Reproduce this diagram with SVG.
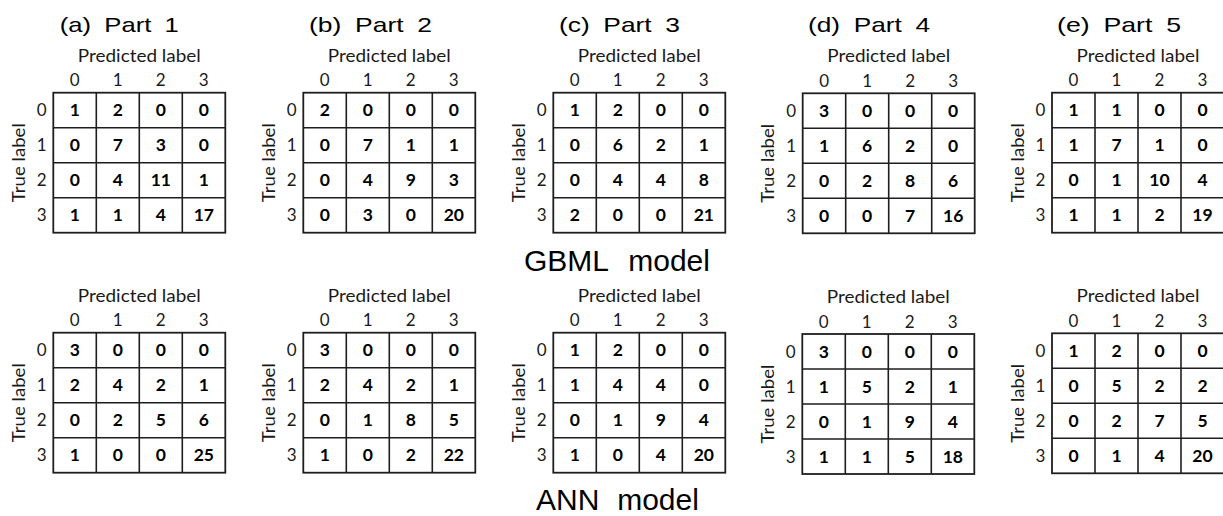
<svg xmlns="http://www.w3.org/2000/svg" width="1223" height="516" viewBox="0 0 1223 516">
<style>
.bg{fill:#fff}
.t{font-family:"Liberation Sans",Arial,sans-serif;font-size:21px;fill:#000;word-spacing:5px}
.pl{font-family:Lato,"Open Sans",sans-serif;font-size:17px;fill:#1a1a1a;text-anchor:middle}
.ax{font-family:Lato,"Open Sans",sans-serif;font-size:17px;fill:#1a1a1a;text-anchor:middle}
.v{font-family:Lato,"Open Sans",sans-serif;font-size:17.5px;font-weight:bold;fill:#000;text-anchor:middle}
.grid{fill:#fff;stroke:#1e1e1e;stroke-width:1.8}
.gl{fill:none;stroke:#1e1e1e;stroke-width:1.6}
.m{font-family:"Liberation Sans",Arial,sans-serif;font-size:30px;fill:#000}
</style>
<defs>
<g id="frame">
<rect class="grid" x="0" y="0" width="172" height="140"/>
<path class="gl" d="M43 0V140M86 0V140M129 0V140M0 35H172M0 70H172M0 105H172"/>
<text class="pl" x="86" y="-31" textLength="123" lengthAdjust="spacingAndGlyphs">Predicted label</text>
<text class="ax" x="21.5" y="-6.5">0</text><text class="ax" x="64.5" y="-6.5">1</text><text class="ax" x="107.5" y="-6.5">2</text><text class="ax" x="150.5" y="-6.5">3</text>
<text class="ax" x="-11.6" y="23.6">0</text><text class="ax" x="-11.6" y="58.6">1</text><text class="ax" x="-11.6" y="93.6">2</text><text class="ax" x="-11.6" y="128.6">3</text>
<text class="pl" transform="translate(-28.3,70) rotate(-90)" textLength="79" lengthAdjust="spacingAndGlyphs">True label</text>
</g>
</defs>
<rect class="bg" x="0" y="0" width="1223" height="516"/>

<g id="gbml-a" transform="translate(53.3,92.7)">
<text class="t" x="6.5" y="-61" textLength="119" lengthAdjust="spacingAndGlyphs">(a) Part 1</text>
<use href="#frame"/>
<text class="v" x="21.5" y="23.8">1</text><text class="v" x="64.5" y="23.8">2</text><text class="v" x="107.5" y="23.8">0</text><text class="v" x="150.5" y="23.8">0</text>
<text class="v" x="21.5" y="58.8">0</text><text class="v" x="64.5" y="58.8">7</text><text class="v" x="107.5" y="58.8">3</text><text class="v" x="150.5" y="58.8">0</text>
<text class="v" x="21.5" y="93.8">0</text><text class="v" x="64.5" y="93.8">4</text><text class="v" x="107.5" y="93.8">11</text><text class="v" x="150.5" y="93.8">1</text>
<text class="v" x="21.5" y="128.8">1</text><text class="v" x="64.5" y="128.8">1</text><text class="v" x="107.5" y="128.8">4</text><text class="v" x="150.5" y="128.8">17</text>
</g>

<g id="gbml-b" transform="translate(303.3,92.7)">
<text class="t" x="5.7" y="-61" textLength="123" lengthAdjust="spacingAndGlyphs">(b) Part 2</text>
<use href="#frame"/>
<text class="v" x="21.5" y="23.8">2</text><text class="v" x="64.5" y="23.8">0</text><text class="v" x="107.5" y="23.8">0</text><text class="v" x="150.5" y="23.8">0</text>
<text class="v" x="21.5" y="58.8">0</text><text class="v" x="64.5" y="58.8">7</text><text class="v" x="107.5" y="58.8">1</text><text class="v" x="150.5" y="58.8">1</text>
<text class="v" x="21.5" y="93.8">0</text><text class="v" x="64.5" y="93.8">4</text><text class="v" x="107.5" y="93.8">9</text><text class="v" x="150.5" y="93.8">3</text>
<text class="v" x="21.5" y="128.8">0</text><text class="v" x="64.5" y="128.8">3</text><text class="v" x="107.5" y="128.8">0</text><text class="v" x="150.5" y="128.8">20</text>
</g>

<g id="gbml-c" transform="translate(553.3,92.7)">
<text class="t" x="5.7" y="-61" textLength="121" lengthAdjust="spacingAndGlyphs">(c) Part 3</text>
<use href="#frame"/>
<text class="v" x="21.5" y="23.8">1</text><text class="v" x="64.5" y="23.8">2</text><text class="v" x="107.5" y="23.8">0</text><text class="v" x="150.5" y="23.8">0</text>
<text class="v" x="21.5" y="58.8">0</text><text class="v" x="64.5" y="58.8">6</text><text class="v" x="107.5" y="58.8">2</text><text class="v" x="150.5" y="58.8">1</text>
<text class="v" x="21.5" y="93.8">0</text><text class="v" x="64.5" y="93.8">4</text><text class="v" x="107.5" y="93.8">4</text><text class="v" x="150.5" y="93.8">8</text>
<text class="v" x="21.5" y="128.8">2</text><text class="v" x="64.5" y="128.8">0</text><text class="v" x="107.5" y="128.8">0</text><text class="v" x="150.5" y="128.8">21</text>
</g>

<g id="gbml-d" transform="translate(802.7,93.3)">
<text class="t" x="5.3" y="-61.6" textLength="122" lengthAdjust="spacingAndGlyphs">(d) Part 4</text>
<use href="#frame"/>
<text class="v" x="21.5" y="23.8">3</text><text class="v" x="64.5" y="23.8">0</text><text class="v" x="107.5" y="23.8">0</text><text class="v" x="150.5" y="23.8">0</text>
<text class="v" x="21.5" y="58.8">1</text><text class="v" x="64.5" y="58.8">6</text><text class="v" x="107.5" y="58.8">2</text><text class="v" x="150.5" y="58.8">0</text>
<text class="v" x="21.5" y="93.8">0</text><text class="v" x="64.5" y="93.8">2</text><text class="v" x="107.5" y="93.8">8</text><text class="v" x="150.5" y="93.8">6</text>
<text class="v" x="21.5" y="128.8">0</text><text class="v" x="64.5" y="128.8">0</text><text class="v" x="107.5" y="128.8">7</text><text class="v" x="150.5" y="128.8">16</text>
</g>

<g id="gbml-e" transform="translate(1052,92.7)">
<text class="t" x="5" y="-61" textLength="124" lengthAdjust="spacingAndGlyphs">(e) Part 5</text>
<use href="#frame"/>
<text class="v" x="21.5" y="23.8">1</text><text class="v" x="64.5" y="23.8">1</text><text class="v" x="107.5" y="23.8">0</text><text class="v" x="150.5" y="23.8">0</text>
<text class="v" x="21.5" y="58.8">1</text><text class="v" x="64.5" y="58.8">7</text><text class="v" x="107.5" y="58.8">1</text><text class="v" x="150.5" y="58.8">0</text>
<text class="v" x="21.5" y="93.8">0</text><text class="v" x="64.5" y="93.8">1</text><text class="v" x="107.5" y="93.8">10</text><text class="v" x="150.5" y="93.8">4</text>
<text class="v" x="21.5" y="128.8">1</text><text class="v" x="64.5" y="128.8">1</text><text class="v" x="107.5" y="128.8">2</text><text class="v" x="150.5" y="128.8">19</text>
</g>

<text id="gbml-title" class="m" x="524" y="271" style="word-spacing:12px">GBML model</text>

<g id="ann-a" transform="translate(53.3,332.7)">
<use href="#frame"/>
<text class="v" x="21.5" y="23.8">3</text><text class="v" x="64.5" y="23.8">0</text><text class="v" x="107.5" y="23.8">0</text><text class="v" x="150.5" y="23.8">0</text>
<text class="v" x="21.5" y="58.8">2</text><text class="v" x="64.5" y="58.8">4</text><text class="v" x="107.5" y="58.8">2</text><text class="v" x="150.5" y="58.8">1</text>
<text class="v" x="21.5" y="93.8">0</text><text class="v" x="64.5" y="93.8">2</text><text class="v" x="107.5" y="93.8">5</text><text class="v" x="150.5" y="93.8">6</text>
<text class="v" x="21.5" y="128.8">1</text><text class="v" x="64.5" y="128.8">0</text><text class="v" x="107.5" y="128.8">0</text><text class="v" x="150.5" y="128.8">25</text>
</g>

<g id="ann-b" transform="translate(303.3,332.7)">
<use href="#frame"/>
<text class="v" x="21.5" y="23.8">3</text><text class="v" x="64.5" y="23.8">0</text><text class="v" x="107.5" y="23.8">0</text><text class="v" x="150.5" y="23.8">0</text>
<text class="v" x="21.5" y="58.8">2</text><text class="v" x="64.5" y="58.8">4</text><text class="v" x="107.5" y="58.8">2</text><text class="v" x="150.5" y="58.8">1</text>
<text class="v" x="21.5" y="93.8">0</text><text class="v" x="64.5" y="93.8">1</text><text class="v" x="107.5" y="93.8">8</text><text class="v" x="150.5" y="93.8">5</text>
<text class="v" x="21.5" y="128.8">1</text><text class="v" x="64.5" y="128.8">0</text><text class="v" x="107.5" y="128.8">2</text><text class="v" x="150.5" y="128.8">22</text>
</g>

<g id="ann-c" transform="translate(553.3,332.7)">
<use href="#frame"/>
<text class="v" x="21.5" y="23.8">1</text><text class="v" x="64.5" y="23.8">2</text><text class="v" x="107.5" y="23.8">0</text><text class="v" x="150.5" y="23.8">0</text>
<text class="v" x="21.5" y="58.8">1</text><text class="v" x="64.5" y="58.8">4</text><text class="v" x="107.5" y="58.8">4</text><text class="v" x="150.5" y="58.8">0</text>
<text class="v" x="21.5" y="93.8">0</text><text class="v" x="64.5" y="93.8">1</text><text class="v" x="107.5" y="93.8">9</text><text class="v" x="150.5" y="93.8">4</text>
<text class="v" x="21.5" y="128.8">1</text><text class="v" x="64.5" y="128.8">0</text><text class="v" x="107.5" y="128.8">4</text><text class="v" x="150.5" y="128.8">20</text>
</g>

<g id="ann-d" transform="translate(802.3,334)">
<use href="#frame"/>
<text class="v" x="21.5" y="23.8">3</text><text class="v" x="64.5" y="23.8">0</text><text class="v" x="107.5" y="23.8">0</text><text class="v" x="150.5" y="23.8">0</text>
<text class="v" x="21.5" y="58.8">1</text><text class="v" x="64.5" y="58.8">5</text><text class="v" x="107.5" y="58.8">2</text><text class="v" x="150.5" y="58.8">1</text>
<text class="v" x="21.5" y="93.8">0</text><text class="v" x="64.5" y="93.8">1</text><text class="v" x="107.5" y="93.8">9</text><text class="v" x="150.5" y="93.8">4</text>
<text class="v" x="21.5" y="128.8">1</text><text class="v" x="64.5" y="128.8">1</text><text class="v" x="107.5" y="128.8">5</text><text class="v" x="150.5" y="128.8">18</text>
</g>

<g id="ann-e" transform="translate(1052,333.3)">
<use href="#frame"/>
<text class="v" x="21.5" y="23.8">1</text><text class="v" x="64.5" y="23.8">2</text><text class="v" x="107.5" y="23.8">0</text><text class="v" x="150.5" y="23.8">0</text>
<text class="v" x="21.5" y="58.8">0</text><text class="v" x="64.5" y="58.8">5</text><text class="v" x="107.5" y="58.8">2</text><text class="v" x="150.5" y="58.8">2</text>
<text class="v" x="21.5" y="93.8">0</text><text class="v" x="64.5" y="93.8">2</text><text class="v" x="107.5" y="93.8">7</text><text class="v" x="150.5" y="93.8">5</text>
<text class="v" x="21.5" y="128.8">0</text><text class="v" x="64.5" y="128.8">1</text><text class="v" x="107.5" y="128.8">4</text><text class="v" x="150.5" y="128.8">20</text>
</g>

<text id="ann-title" class="m" x="536" y="510" style="word-spacing:9.5px">ANN model</text>
<g id="connectors"/>
</svg>
